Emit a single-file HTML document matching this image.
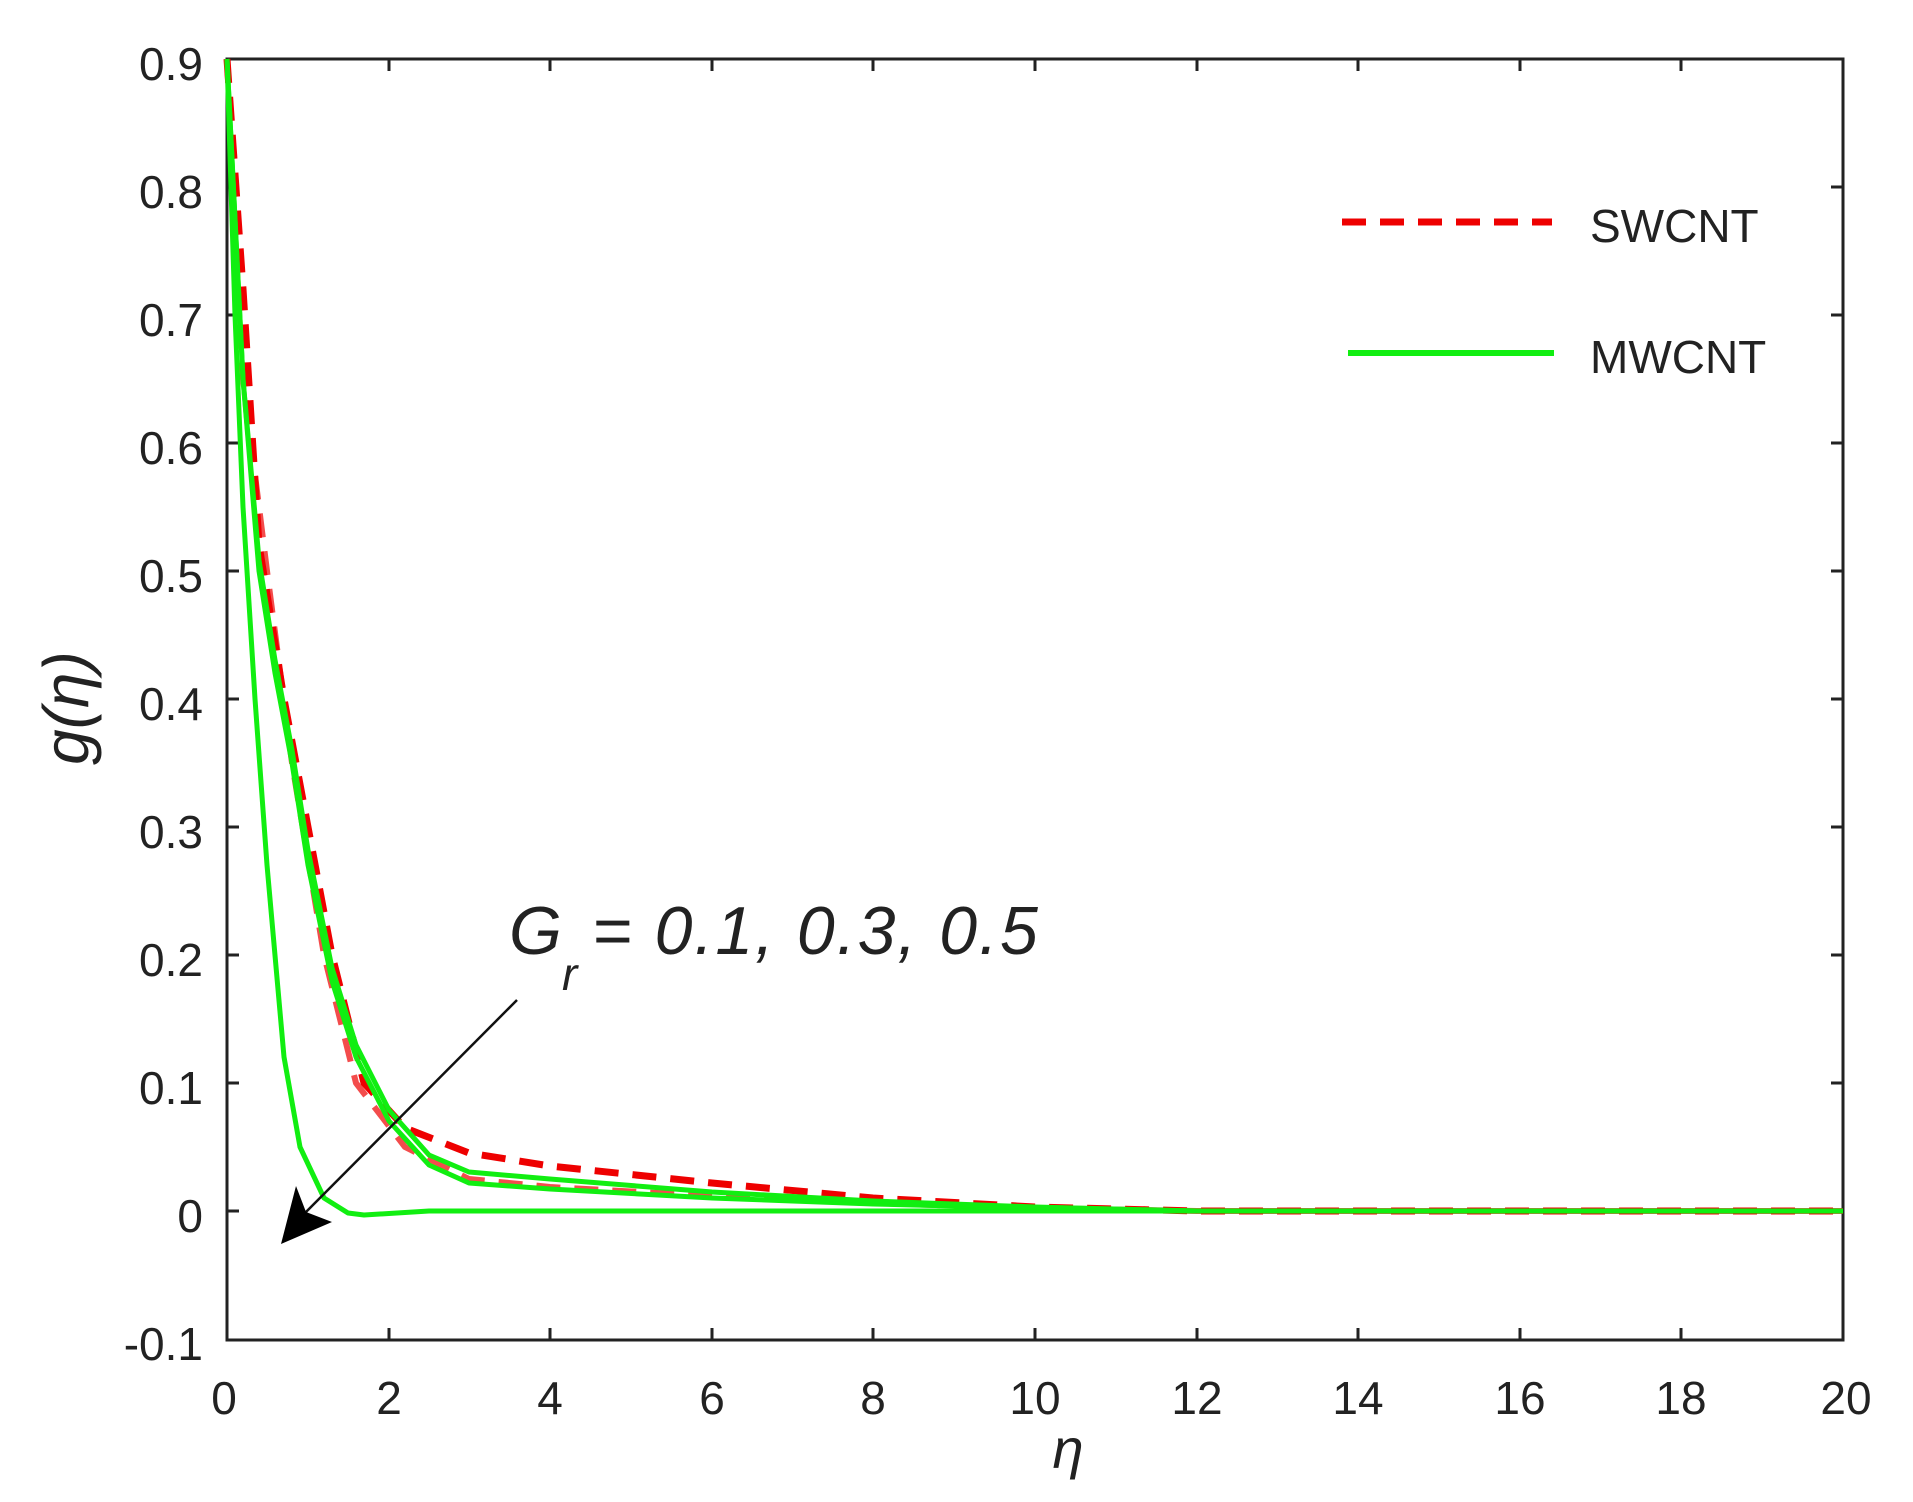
<!DOCTYPE html>
<html><head><meta charset="utf-8"><style>
html,body{margin:0;padding:0;background:#fff}
svg{display:block}
text{font-family:"Liberation Sans",Arial,sans-serif;fill:#222}
</style></head><body>
<svg width="1913" height="1502" viewBox="0 0 1913 1502" xmlns="http://www.w3.org/2000/svg">
<rect width="1913" height="1502" fill="#fff"/>
<g stroke="#222" stroke-width="3">
<rect x="227" y="59" width="1616" height="1281" fill="none"/>
<path d="M227 187h12M227 315h12M227 443h12M227 571h12M227 699h12M227 827h12M227 955h12M227 1083h12M227 1211h12
M1843 187h-12M1843 315h-12M1843 443h-12M1843 571h-12M1843 699h-12M1843 827h-12M1843 955h-12M1843 1083h-12M1843 1211h-12
M389 1340v-12M550 1340v-12M712 1340v-12M873 1340v-12M1035 1340v-12M1197 1340v-12M1358 1340v-12M1520 1340v-12M1681 1340v-12
M389 59v12M550 59v12M712 59v12M873 59v12M1035 59v12M1197 59v12M1358 59v12M1520 59v12M1681 59v12"/>
</g>
<g font-size="46" text-anchor="end">
<text x="203" y="80">0.9</text><text x="203" y="208">0.8</text><text x="203" y="336">0.7</text>
<text x="203" y="464">0.6</text><text x="203" y="592">0.5</text><text x="203" y="720">0.4</text>
<text x="203" y="848">0.3</text><text x="203" y="976">0.2</text><text x="203" y="1104">0.1</text>
<text x="203" y="1232">0</text><text x="203" y="1360">-0.1</text>
</g>
<g font-size="46" text-anchor="middle">
<text x="224" y="1414">0</text><text x="389" y="1414">2</text><text x="550" y="1414">4</text><text x="712" y="1414">6</text>
<text x="873" y="1414">8</text><text x="1035" y="1414">10</text><text x="1197" y="1414">12</text><text x="1358" y="1414">14</text>
<text x="1520" y="1414">16</text><text x="1681" y="1414">18</text><text x="1846" y="1414">20</text>
</g>
<text x="1068" y="1468" font-size="56" font-style="italic" text-anchor="middle" font-family="Liberation Serif">η</text>
<text transform="translate(88,708) rotate(-90)" font-size="64" font-style="italic" text-anchor="middle" font-family="Liberation Serif">g(η)</text>
<g fill="none" stroke-linejoin="round" stroke-linecap="butt">
<polyline stroke="#e00" stroke-width="7" stroke-dasharray="24 14" points="227,59 243,289 259,545 284,699 308,827 332,955 364,1083 405,1128 469,1153 550,1166 712,1183 873,1198 1035,1207 1197,1211 1843,1211"/>
<polyline stroke="#e00" stroke-width="6" stroke-dasharray="24 14" opacity="0.7" points="227,59 243,379 267,571 292,763 324,955 356,1083 405,1147 469,1179 550,1187 712,1196 873,1203 1035,1208 1197,1211 1843,1211"/>
<polyline stroke="#1e1" stroke-width="5" points="227,59 235,315 243,507 255,699 267,865 284,1057 300,1147 324,1198 348,1213 364,1215 429,1211 1843,1211"/>
<polyline stroke="#1e1" stroke-width="5" points="227,59 243,379 259,571 275,673 292,763 308,865 332,981 356,1057 389,1121 429,1165 469,1183 550,1189 712,1198 873,1204 1035,1208 1197,1211 1843,1211"/>
<polyline stroke="#1e1" stroke-width="5" points="227,59 243,379 259,560 275,660 292,750 308,850 332,968 356,1045 389,1110 429,1155 469,1172 550,1179 712,1192 873,1201 1035,1207 1197,1211 1843,1211"/>
<line x1="1342" y1="222" x2="1552" y2="222" stroke="#e00" stroke-width="7" stroke-dasharray="24 14"/>
<line x1="1348" y1="353" x2="1554" y2="353" stroke="#1e1" stroke-width="6"/>
</g>
<text x="1590" y="242" font-size="46">SWCNT</text>
<text x="1590" y="373" font-size="46">MWCNT</text>
<text x="509" y="954" font-size="68" font-style="italic">G</text>
<text x="562" y="990" font-size="46" font-style="italic">r</text>
<text x="592" y="954" font-size="68" font-style="italic" letter-spacing="2">= 0.1, 0.3, 0.5</text>
<line x1="517" y1="1000" x2="300" y2="1218" stroke="#111" stroke-width="2.5"/>
<polygon points="281,1244 296,1186 306,1212 332,1222" fill="#000"/>
</svg>
</body></html>
